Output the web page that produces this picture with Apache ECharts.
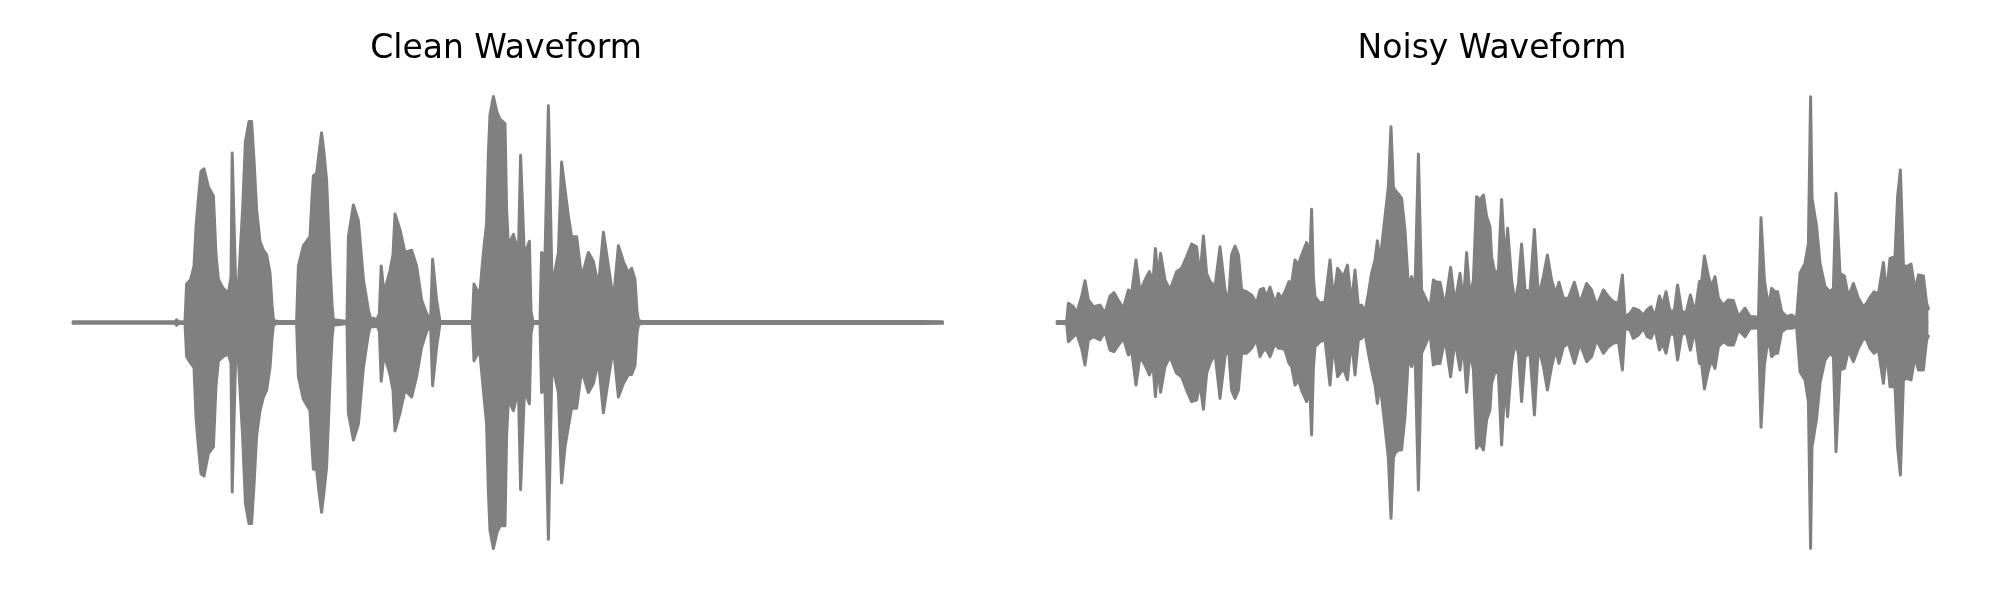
<!DOCTYPE html>
<html>
<head>
<meta charset="utf-8">
<script src="https://cdn.jsdelivr.net/npm/echarts@6/dist/echarts.min.js"></script>
<style>html,body{margin:0;padding:0;background:#fff;}#chart{width:2000px;height:600px;}</style>
</head>
<body>
<div id="chart"></div>
<script>
// Titles
const titles = ["Clean Waveform", "Noisy Waveform"];

// Clean waveform envelope (time in ms, amplitude normalised)
const cleanTime = [0,510,518,528,560,568,588,605,615,627,640,655,677,702,715,727,752,777,790,796,805,813,827,848,862,880,893,905,918,935,952,968,985,995,1002,1018,1118,1127,1152,1185,1195,1202,1218,1230,1243,1255,1268,1285,1295,1302,1370,1377,1402,1427,1452,1477,1490,1502,1518,1532,1541,1546,1555,1585,1600,1610,1635,1660,1693,1718,1743,1768,1788,1798,1805,1818,1835,1997,2005,2014,2022,2035,2052,2068,2077,2085,2102,2120,2135,2160,2168,2177,2202,2227,2238,2246,2256,2270,2282,2290,2300,2335,2343,2360,2377,2385,2395,2402,2427,2443,2460,2477,2493,2518,2543,2577,2602,2627,2652,2677,2702,2727,2752,2777,2793,2810,2820,2827,2843,4235,4243,4252,4348];
const cleanUpper = [.003,.003,.012,.003,.004,.17,.19,.25,.42,.55,.67,.68,.60,.56,.30,.19,.15,.13,.20,.75,.75,.18,.17,.50,.80,.89,.89,.72,.50,.36,.32,.30,.22,.08,.012,.004,.004,.25,.34,.38,.55,.65,.66,.75,.84,.75,.63,.26,.08,.012,.004,.38,.52,.45,.19,.055,.01,.02,.01,.04,.25,.25,.13,.23,.30,.48,.41,.31,.32,.25,.10,.04,.012,.28,.28,.10,.004,.004,.17,.17,.14,.14,.31,.44,.75,.92,1.0,.93,.90,.88,.50,.34,.39,.31,.74,.74,.31,.33,.36,.05,.004,.004,.31,.29,.96,.96,.18,.19,.31,.71,.59,.47,.38,.38,.20,.31,.27,.16,.40,.25,.10,.34,.27,.22,.24,.19,.05,.01,.004,.004,.012,.004,.003];
const cleanLower = [-.003,-.003,-.012,-.003,-.004,-.15,-.18,-.20,-.42,-.55,-.67,-.68,-.58,-.55,-.28,-.17,-.15,-.14,-.18,-.75,-.75,-.16,-.17,-.50,-.80,-.89,-.89,-.72,-.50,-.39,-.33,-.30,-.20,-.07,-.012,-.004,-.004,-.24,-.34,-.39,-.55,-.65,-.65,-.75,-.84,-.75,-.64,-.26,-.07,-.012,-.004,-.40,-.52,-.45,-.20,-.05,-.01,-.02,-.01,-.04,-.26,-.26,-.14,-.23,-.30,-.48,-.40,-.30,-.33,-.24,-.11,-.04,-.012,-.28,-.28,-.11,-.004,-.004,-.17,-.17,-.14,-.14,-.30,-.45,-.75,-.92,-1.0,-.93,-.90,-.90,-.50,-.34,-.39,-.29,-.74,-.74,-.33,-.33,-.36,-.05,-.004,-.004,-.31,-.30,-.96,-.96,-.18,-.18,-.31,-.71,-.55,-.46,-.38,-.38,-.21,-.31,-.27,-.17,-.40,-.25,-.11,-.33,-.27,-.23,-.23,-.19,-.05,-.01,-.004,-.004,-.012,-.004,-.003];

// Noisy waveform envelope (time in ms, amplitude normalised)
const noisyTime = [0,48,57,82,98,123,140,157,182,215,240,265,285,307,332,357,373,395,415,440,462,480,492,505,518,540,565,598,623,648,673,698,715,732,748,765,790,815,840,857,873,890,907,923,948,973,998,1015,1032,1048,1065,1090,1107,1123,1140,1160,1173,1190,1207,1223,1248,1265,1273,1282,1290,1315,1340,1365,1382,1403,1432,1440,1452,1473,1490,1507,1523,1540,1557,1573,1590,1602,1615,1640,1657,1670,1682,1690,1707,1723,1740,1757,1773,1790,1807,1823,1845,1865,1882,1898,1915,1940,1968,1990,2015,2032,2048,2065,2082,2098,2115,2132,2148,2165,2173,2190,2207,2223,2240,2253,2273,2290,2307,2323,2340,2365,2387,2407,2432,2452,2473,2493,2510,2532,2557,2587,2615,2648,2673,2698,2732,2757,2782,2807,2827,2840,2865,2882,2890,2907,2932,2952,2970,2990,3012,3028,3045,3065,3087,3103,3123,3145,3167,3190,3212,3223,3237,3257,3273,3290,3307,3332,3357,3382,3407,3440,3465,3493,3507,3520,3537,3557,3573,3590,3603,3623,3648,3673,3698,3715,3740,3757,3768,3775,3782,3798,3815,3840,3865,3882,3895,3915,3937,3957,3982,4007,4032,4048,4065,4085,4107,4132,4148,4165,4190,4203,4217,4232,4248,4270,4290,4307,4332,4348,4357];
const noisyUpper = [.004,.004,.085,.07,.041,.114,.185,.10,.07,.077,.041,.117,.132,.097,.063,.144,.129,.277,.136,.188,.225,.18,.328,.20,.306,.188,.144,.225,.24,.291,.347,.335,.203,.383,.218,.181,.159,.335,.144,.085,.30,.338,.30,.144,.136,.122,.085,.144,.151,.114,.156,.085,.129,.107,.136,.181,.173,.277,.254,.299,.354,.30,.501,.20,.114,.085,.092,.277,.10,.24,.203,.21,.254,.085,.232,.07,.077,.048,.129,.218,.277,.362,.269,.469,.601,.866,.60,.586,.569,.549,.409,.159,.203,.144,.746,.144,.103,.063,.188,.178,.178,.07,.244,.085,.218,.085,.309,.114,.188,.557,.542,.564,.469,.424,.291,.218,.232,.545,.262,.417,.188,.085,.173,.347,.144,.136,.412,.114,.203,.299,.188,.129,.178,.107,.107,.178,.085,.173,.144,.073,.144,.114,.092,.085,.21,.026,.041,.063,.07,.055,.033,.058,.07,.026,.117,.077,.136,.048,.055,.166,.052,.041,.122,.041,.181,.181,.294,.203,.159,.203,.107,.077,.10,.097,.026,.063,.026,.026,.011,.464,.188,.07,.151,.136,.136,.048,.026,.033,.018,.218,.262,.35,.999,.55,.513,.424,.262,.159,.136,.151,.572,.218,.206,.114,.173,.107,.07,.085,.111,.136,.126,.266,.129,.284,.291,.557,.675,.254,.247,.259,.144,.21,.206,.085,.06];
const noisyLower = [-.004,-.004,-.085,-.063,-.048,-.114,-.188,-.077,-.063,-.077,-.041,-.122,-.129,-.10,-.07,-.144,-.122,-.277,-.151,-.188,-.232,-.19,-.328,-.20,-.309,-.195,-.151,-.225,-.24,-.299,-.35,-.343,-.269,-.384,-.225,-.181,-.136,-.336,-.151,-.107,-.30,-.336,-.30,-.136,-.136,-.114,-.077,-.151,-.122,-.122,-.151,-.092,-.114,-.114,-.122,-.181,-.195,-.277,-.254,-.299,-.35,-.31,-.498,-.20,-.107,-.085,-.077,-.277,-.092,-.24,-.203,-.203,-.254,-.077,-.232,-.077,-.07,-.048,-.136,-.21,-.277,-.358,-.269,-.461,-.601,-.867,-.60,-.579,-.564,-.564,-.417,-.151,-.195,-.136,-.741,-.136,-.092,-.048,-.188,-.181,-.181,-.07,-.24,-.077,-.21,-.092,-.309,-.122,-.21,-.557,-.535,-.564,-.431,-.387,-.27,-.218,-.225,-.542,-.269,-.417,-.181,-.092,-.136,-.35,-.151,-.136,-.409,-.107,-.195,-.299,-.195,-.122,-.181,-.107,-.092,-.181,-.092,-.173,-.151,-.077,-.136,-.107,-.092,-.085,-.21,-.026,-.033,-.07,-.07,-.055,-.026,-.063,-.07,-.026,-.122,-.092,-.136,-.048,-.055,-.166,-.055,-.041,-.122,-.033,-.181,-.181,-.294,-.21,-.166,-.203,-.107,-.085,-.10,-.10,-.033,-.063,-.026,-.026,-.011,-.464,-.188,-.063,-.151,-.136,-.136,-.041,-.026,-.026,-.018,-.218,-.254,-.35,-1.0,-.55,-.513,-.424,-.269,-.166,-.136,-.151,-.572,-.21,-.203,-.122,-.173,-.114,-.07,-.077,-.114,-.136,-.122,-.269,-.129,-.284,-.284,-.55,-.675,-.254,-.247,-.254,-.151,-.21,-.21,-.077,-.06];

const GRAY = '#808080';
const chart = echarts.init(document.getElementById('chart'), null, {renderer: 'canvas'});

function pairs(t, v) { return t.map((x, i) => [x, v[i]]); }
function env(name, idx, data, origin) {
  return {
    name: name, type: 'line', xAxisIndex: idx, yAxisIndex: idx,
    data: data, symbol: 'none', showSymbol: false, smooth: false,
    clip: false, silent: true, sampling: null,
    lineStyle: {color: GRAY, width: 3, join: 'round', cap: 'round'},
    areaStyle: {color: GRAY, opacity: 1, origin: origin},
    itemStyle: {color: GRAY},
    animation: false
  };
}

const grids = [
  {left: 29, top: 74, width: 958, height: 497},
  {left: 1013, top: 74, width: 958, height: 497}
];

chart.setOption({
  backgroundColor: '#ffffff',
  animation: false,
  title: [
    {text: titles[0], left: 501, top: 28, textAlign: 'center',
     textStyle: {fontFamily: 'DejaVu Sans', fontSize: 33, fontWeight: 'normal', color: '#000'}},
    {text: titles[1], left: 1487, top: 28, textAlign: 'center',
     textStyle: {fontFamily: 'DejaVu Sans', fontSize: 33, fontWeight: 'normal', color: '#000'}}
  ],
  grid: grids,
  xAxis: [
    {type: 'value', gridIndex: 0, min: -220, max: 4570, show: false},
    {type: 'value', gridIndex: 1, min: -220, max: 4570, show: false}
  ],
  yAxis: [
    {type: 'value', gridIndex: 0, min: -1.1, max: 1.1, show: false},
    {type: 'value', gridIndex: 1, min: -1.1, max: 1.1, show: false}
  ],
  series: [
    env('clean upper', 0, pairs(cleanTime, cleanUpper), -0.003),
    env('clean lower', 0, pairs(cleanTime, cleanLower), 0.003),
    env('noisy upper', 1, pairs(noisyTime, noisyUpper), -0.003),
    env('noisy lower', 1, pairs(noisyTime, noisyLower), 0.003)
  ]
});
</script>
</body>
</html>
